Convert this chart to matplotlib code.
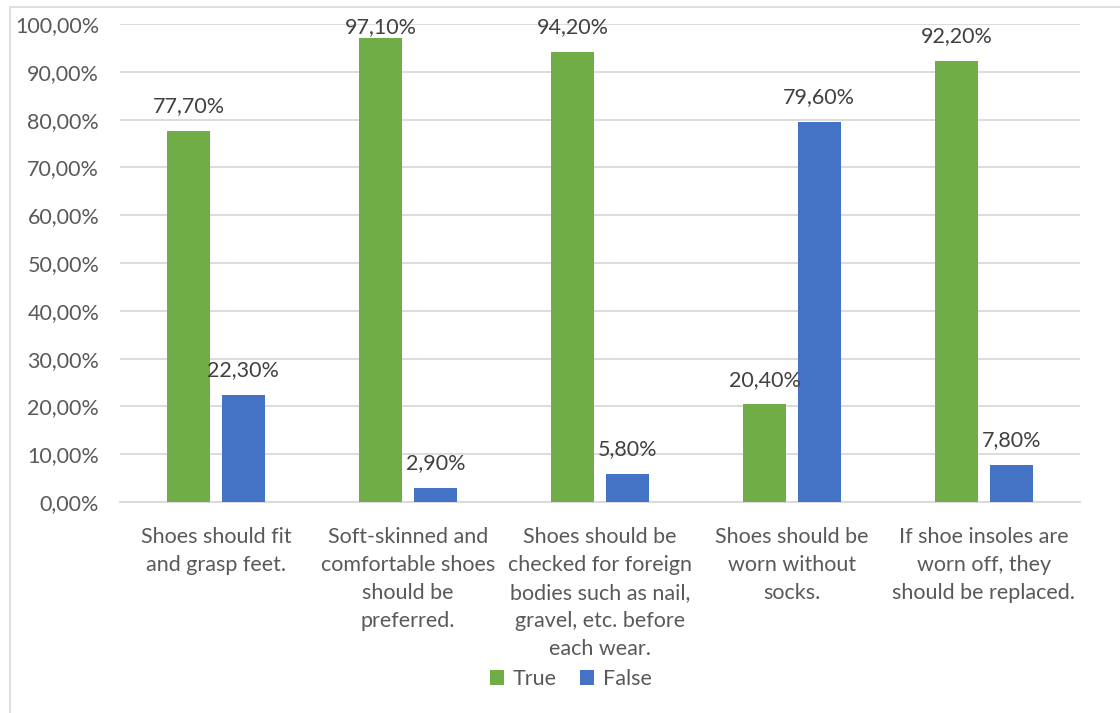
import matplotlib.pyplot as plt
import numpy as np
from matplotlib.patches import Rectangle
from matplotlib.ticker import FuncFormatter

plt.rcParams['font.family'] = ['Lato', 'DejaVu Sans']

categories = [
    "Shoes should fit\nand grasp feet.",
    "Soft-skinned and\ncomfortable shoes\nshould be\npreferred.",
    "Shoes should be\nchecked for foreign\nbodies such as nail,\ngravel, etc. before\neach wear.",
    "Shoes should be\nworn without\nsocks.",
    "If shoe insoles are\nworn off, they\nshould be replaced.",
]
true_vals = [77.7, 97.1, 94.2, 20.4, 92.2]
false_vals = [22.3, 2.9, 5.8, 79.6, 7.8]

green = "#70ad47"
blue = "#4472c4"
text_gray = "#595959"
label_gray = "#404040"
fs = 15.5

fig = plt.figure(figsize=(11.2, 7.13), dpi=100)
ax = fig.add_axes([120 / 1120, 1 - 502 / 713, 960 / 1120, 478 / 713])

# chart frame (left and top edges visible)
fig.patches.append(Rectangle((10 / 1120, -0.01), 1.1, 1 - 7 / 713 + 0.01,
                             transform=fig.transFigure, fill=False,
                             edgecolor="#d9d9d9", linewidth=1.2))

x = np.arange(len(categories))
w = 0.224
off = 0.142
b1 = ax.bar(x - off, true_vals, w, color=green, label="True", zorder=3)
b2 = ax.bar(x + off, false_vals, w, color=blue, label="False", zorder=3)

# value labels above the bars, kept inside the plot area at the top
for bars, vals in ((b1, true_vals), (b2, false_vals)):
    for rect, v in zip(bars, vals):
        ax.text(rect.get_x() + rect.get_width() / 2, min(v + 5.2, 99.4),
                f"{v:.2f}%".replace(".", ","), ha="center", va="center",
                fontsize=fs, color=label_gray)

ax.set_xlim(-0.5, len(categories) - 0.5)
ax.set_ylim(0, 100)
ax.set_yticks(np.arange(0, 101, 10))
ax.yaxis.set_major_formatter(FuncFormatter(lambda v, p: f"{v:.2f}%".replace(".", ",")))
ax.grid(axis="y", color="#d9d9d9", linewidth=1.3, zorder=0)
ax.set_xticks(x)
ax.set_xticklabels(categories, fontsize=fs, color=text_gray, linespacing=1.5,
                   va="top")
ax.tick_params(axis="x", length=0, pad=18)
ax.tick_params(axis="y", length=0, pad=15, labelsize=fs, labelcolor=text_gray)
for s in ("top", "right", "left"):
    ax.spines[s].set_visible(False)
ax.spines["bottom"].set_color("#d9d9d9")
ax.spines["bottom"].set_linewidth(1.3)

fig.legend(handles=[b1, b2], loc="center", bbox_to_anchor=(571 / 1120, 1 - 679 / 713),
           ncol=2, frameon=False, fontsize=fs, handlelength=0.65, handleheight=0.65,
           handletextpad=0.4, columnspacing=1.1, labelcolor=text_gray)

fig.savefig("out.png", dpi=100, facecolor="white")
